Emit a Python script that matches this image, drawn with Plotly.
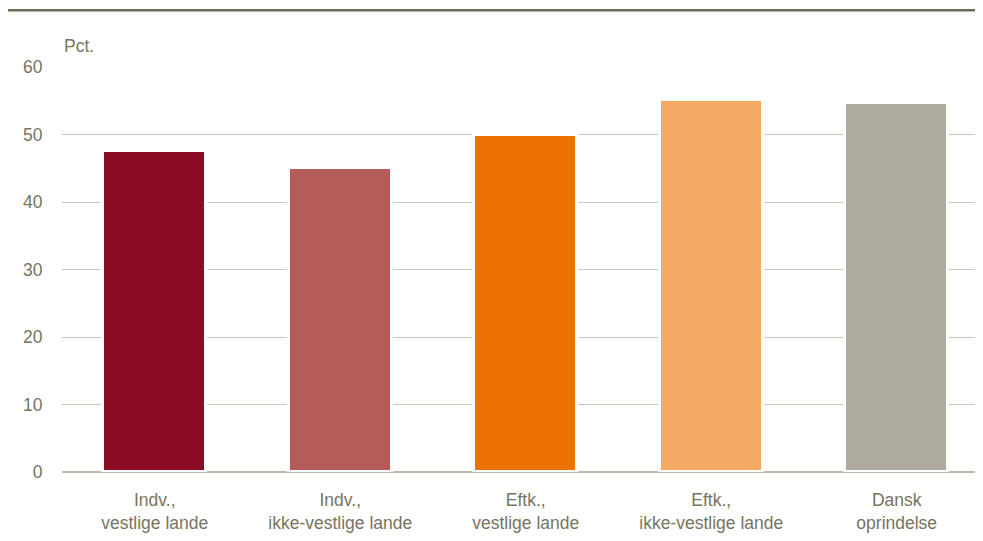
import plotly.graph_objects as go

categories = ["Indv.,<br>vestlige lande", "Indv.,<br>ikke-vestlige lande", "Eftk.,<br>vestlige lande",
              "Eftk.,<br>ikke-vestlige lande", "Dansk<br>oprindelse"]
values = [47.6, 45.1, 50.0, 55.1, 54.6]
colors = ["#8b0c22", "#b35c5a", "#ee7203", "#f5aa64", "#aeab9d"]
y_ticks = [0, 10, 20, 30, 40, 50, 60]

FONT = "Liberation Sans, Arial, sans-serif"
TXT = "#77745f"
FS = 17.5

fig = go.Figure(go.Bar(
    x=list(range(len(categories))), y=values,
    marker=dict(color=colors, line=dict(color="white", width=3)),
    width=0.555, hoverinfo="skip",
))

fig.update_layout(
    width=967, height=525,
    margin=dict(l=54, r=0, t=59, b=59),
    paper_bgcolor="white", plot_bgcolor="white",
    showlegend=False,
    font=dict(family=FONT, size=FS, color=TXT),
    xaxis=dict(
        range=[-0.5, 4.422], tickmode="array", tickvals=list(range(len(categories))),
        ticktext=categories, showgrid=False, zeroline=False, showline=False,
        ticks="outside", ticklen=12, tickcolor="rgba(0,0,0,0)",
        tickfont=dict(family=FONT, size=FS, color=TXT),
    ),
    yaxis=dict(
        range=[0, 60], tickvals=y_ticks, showgrid=True, gridcolor="#cac8be", gridwidth=1,
        zeroline=False, showline=False,
        ticks="outside", ticklen=15, tickcolor="rgba(0,0,0,0)",
        tickfont=dict(family=FONT, size=FS, color=TXT),
    ),
    bargap=0,
    shapes=[
        dict(type="line", xref="paper", yref="paper", x0=0, x1=1, y0=0, y1=0,
             line=dict(color="#bcb9aa", width=2), layer="below"),
        dict(type="line", xref="paper", yref="paper", x0=-0.0625, x1=1, y0=1.14, y1=1.14,
             line=dict(color="#6e6b58", width=2.5)),
    ],
    annotations=[
        dict(text="Pct.", xref="paper", yref="paper", x=0.0, y=1.0516, xanchor="left",
             yanchor="middle", showarrow=False, font=dict(family=FONT, size=FS, color=TXT)),
    ],
)

fig.write_html("out.html")
